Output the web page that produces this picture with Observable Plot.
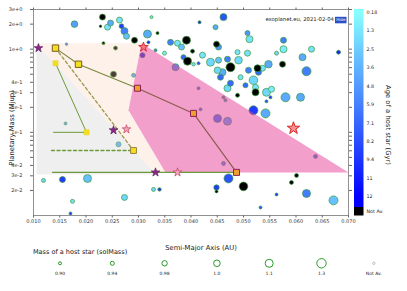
<!DOCTYPE html>
<html><head><meta charset="utf-8">
<script src="https://cdn.jsdelivr.net/npm/d3@7"></script>
<script src="https://cdn.jsdelivr.net/npm/@observablehq/plot@0.6"></script>
<style>body{margin:0;background:#fff}#c{width:407px;height:291px}</style>
</head><body><div id="c"></div><script>
// Planets (bubbles): semi-major axis (AU), planetary mass (Mjup), host star mass (solMass), host star age (Gyr, null = not available)
const planetA = [0.01781,0.02314,0.02276,0.02410,0.02467,0.02638,0.02676,0.02733,0.02771,0.02924,0.02333,0.01629,0.02562,0.02524,0.02905,0.03248,0.03171,0.03362,0.03190,0.03610,0.03743,0.03914,0.04162,0.04619,0.04467,0.04486,0.04524,0.05076,0.05114,0.03076,0.03324,0.03495,0.04029,0.04219,0.03857,0.03933,0.04048,0.04371,0.04524,0.04695,0.04886,0.04905,0.04752,0.04505,0.04562,0.04600,0.04695,0.04752,0.04943,0.05095,0.05267,0.05190,0.05229,0.05476,0.05362,0.05438,0.05533,0.05038,0.04886,0.05229,0.03705,0.04143,0.04181,0.04505,0.04695,0.04619,0.04657,0.04619,0.05190,0.05419,0.05762,0.05762,0.05629,0.06295,0.06810,0.05743,0.06124,0.06200,0.05514,0.05800,0.06086,0.05438,0.06371,0.06010,0.05914,0.06200,0.05629,0.06714,0.05324,0.04714,0.04486,0.04486,0.05000,0.03286,0.03400,0.01610,0.02619,0.01190,0.01552,0.02029,0.01743,0.02733,0.01705,0.03819,0.04143,0.05286,0.05076];
const planetM = [2.00,2.43,1.89,1.84,2.06,2.24,1.89,1.65,1.43,1.28,1.18,1.15,1.03,0.500,0.486,2.43,1.52,1.56,1.21,1.21,1.18,1.28,2.11,2.43,1.84,1.15,1.06,1.56,1.32,0.847,0.973,0.895,0.946,0.847,0.801,0.717,0.659,0.697,0.737,0.758,0.920,0.737,0.607,0.558,0.460,0.528,0.339,0.389,0.460,0.558,0.590,0.423,0.348,0.659,0.590,0.303,0.330,0.368,0.279,0.303,0.607,0.339,0.189,0.147,0.136,0.264,0.243,0.0423,0.184,0.169,1.28,1.00,0.895,1.00,0.920,0.659,0.801,0.543,0.264,0.264,0.264,0.236,0.0514,0.0303,0.0250,0.0184,0.0179,0.0152,0.0125,0.0279,0.0217,0.0195,0.0224,0.0206,0.0206,0.128,0.0717,0.0264,0.0271,0.0279,0.0148,0.0165,0.0106,1.06,0.678,0.528,0.895];
const hostMass = [1.00,0.99,0.88,0.99,0.99,0.99,0.96,1.03,0.99,0.99,0.90,0.88,0.94,0.99,0.94,0.90,1.10,0.90,0.90,0.99,0.99,1.10,0.90,1.03,0.97,0.99,0.99,0.97,1.03,0.97,0.90,0.94,0.94,0.99,0.97,1.10,0.92,1.10,0.99,0.99,0.97,1.07,1.24,1.00,0.99,1.03,1.03,0.99,0.97,0.99,1.03,1.19,0.99,1.06,0.99,1.10,0.99,0.97,0.94,1.03,1.03,0.90,0.90,1.10,1.10,0.90,0.90,0.94,1.24,1.24,0.99,1.03,0.94,0.99,0.94,0.99,1.03,1.24,0.90,1.24,1.10,0.90,0.94,0.94,0.94,1.10,0.90,1.24,0.90,1.24,0.98,0.90,1.19,0.94,0.92,0.90,0.97,0.94,0.99,1.10,0.94,0.99,0.90,0.99,0.90,0.99,0.99];
const hostAge = [4.5,null,null,1.5,4,1.5,9,6,3,null,null,7,null,null,5,1.5,4,null,10,6,1.5,null,10,8,4,null,5,5,1.5,9,6,1,null,1.5,7,null,1.5,2,3,6,1.5,2,null,2,7,4,2,7,1.5,6,null,2,1.5,4,1.5,2,1,7,null,null,5,6,6,6,4,6,5,5,9,4,6,1,2,1.5,10,null,4,6,9,4,4,8,6,null,null,6,9,3,8,8,9,null,null,2,9,5,4,2,9,3,1.5,2,9,3,8,7,1.5];

// Shaded regions
const greyA = [0.01057,0.03324,0.01057];
const greyM = [1.18,0.0312,0.0312];
const peachA = [0.01057,0.03057,0.02810,0.03514,0.03286];
const peachM = [1.18,1.18,0.184,0.033,0.033];
const pinkA = [0.03057,0.070,0.03514,0.02810];
const pinkM = [1.18,0.033,0.033,0.184];

// Squares
const sqA = [0.01419,0.01857,0.02981,0.04048,0.04867,0.01419,0.02010,0.02905];
const sqM = [1.03,0.659,0.339,0.169,0.033,0.678,0.100,0.0605];
// connecting lines
const track1A = [0.01419,0.01857,0.02981], track1M = [1.03,0.659,0.339];
const track2A = [0.02981,0.04048,0.04867], track2M = [0.339,0.169,0.033];
const dash1A = [0.01419,0.02905], dash1M = [1.03,0.0605];
const track3A = [0.01419,0.02010], track3M = [0.678,0.100];
const hline1A = [0.01381,0.02010], hline1M = [0.100,0.100];
const hline2A = [0.01343,0.02905], hline2M = [0.0605,0.0605];
const hline3A = [0.01362,0.04867], hline3M = [0.033,0.033];

// Stars
const starA = [0.01095,0.03095,0.02524,0.02771,0.03324,0.03743,0.05952];
const starM = [1.03,1.06,0.106,0.109,0.033,0.033,0.112];
const starKind = ["purple","red","purple","pink","purple","pink","bigred"];

// Ticks & legends
const xTicks = [0.010,0.015,0.020,0.025,0.030,0.035,0.040,0.045,0.050,0.055,0.060,0.065,0.070];
const yLabelTicks = [0.02,0.03,0.04,0.05,0.1,0.2,0.3,0.4,0.5,1,2,3];
const yMinorTicks = [0.06,0.07,0.08,0.09,0.6,0.7,0.8,0.9];
const ageTickLabels = ["0.18","1.3","2.5","3.6","4.8","5.9","7.1","8.2","9.4","11","12"];
const ageDomain = [0.18, 11.68];
const massLegendValues = [0.90,0.94,0.98,1.0,1.1,1.3];
const massLegendLabels = ["0.90","0.94","0.98","1.0","1.1","1.3"];

const rows = planetA.map((a,i)=>({a, m: planetM[i], ms: hostMass[i], age: hostAge[i]}));
const poly = (A,M)=>A.map((a,i)=>({a, m: M[i]}));
const sq = sqA.map((a,i)=>({a, m: sqM[i], i}));
const stars = starA.map((a,i)=>({a, m: starM[i], k: starKind[i]}));
const line = (A,M,opts)=>Plot.line(poly(A,M),{x:"a",y:"m",...opts});

const F = "DejaVu Sans";
const chart = Plot.plot({
  width: 407, height: 291,
  marginLeft: 33, marginRight: 59, marginTop: 9, marginBottom: 76,
  style: {fontFamily: F, fontSize: "5px", background: "white", color:"#333"},
  x: {domain: [0.010, 0.070]},
  y: {type: "log", domain: [0.01, 3]},
  color: {type: "linear", domain: ageDomain, range: ["#88ffff","#0000ff"], interpolate: "rgb"},
  r: {type: "linear", domain: massLegendValues, range: [1.5,2,2.7,3.3,4,4.7]},
  marks: [
    Plot.dot(rows, {filter: d=>d.age!=null, x:"a", y:"m", r:"ms", fill:"age", stroke:"#3a9a3a", strokeWidth:0.7}),
    Plot.dot(rows, {filter: d=>d.age==null, x:"a", y:"m", r:"ms", fill:"#000", stroke:"#3a9a3a", strokeWidth:0.7}),
    Plot.line(poly(peachA,peachM), {x:"a", y:"m", fill:"#fbd0b8", fillOpacity:0.3, stroke:"none"}),
    Plot.line(poly(greyA,greyM), {x:"a", y:"m", fill:"#cccccc", fillOpacity:0.32, stroke:"none"}),
    Plot.line(poly(pinkA,pinkM), {x:"a", y:"m", fill:"#e7409a", fillOpacity:0.5, stroke:"none"}),
    line(hline3A,hline3M,{stroke:"#6a9a3a", strokeWidth:1.3}),
    line(hline2A,hline2M,{stroke:"#6a9a3a", strokeWidth:1.3, strokeDasharray:"3,2.5"}),
    line(hline1A,hline1M,{stroke:"#6a9a3a", strokeWidth:1}),
    line(track3A,track3M,{stroke:"#6a9a3a", strokeWidth:1}),
    line(dash1A,dash1M,{stroke:"#9a9a50", strokeWidth:1.3, strokeDasharray:"3,2.5"}),
    line(track1A,track1M,{stroke:"#7a8a40", strokeWidth:1.1}),
    line(track2A,track2M,{stroke:"#8a5a48", strokeWidth:1.1}),
    Plot.dot(sq.filter(d=>d.i<2), {x:"a", y:"m", symbol:"square", r:3.6, fill:"#f2e020", stroke:"#7a5a20", strokeWidth:1}),
    Plot.dot(sq.filter(d=>d.i>=2&&d.i<5), {x:"a", y:"m", symbol:"square", r:3.4, fill:"#eba030", stroke:"#8b2252", strokeWidth:1}),
    Plot.dot(sq.filter(d=>d.i==5||d.i==6), {x:"a", y:"m", symbol:"square", r:2.9, fill:"#f2e020", stroke:"#e8d020", strokeWidth:0.5}),
    Plot.dot(sq.filter(d=>d.i==7), {x:"a", y:"m", symbol:"square", r:3.3, fill:"#f2e020", stroke:"#9a8040", strokeWidth:1}),
    Plot.dot(stars.filter(d=>d.k=="purple"), {x:"a", y:"m", symbol:"star", r:2.7, fill:"#8b2a8b", stroke:"#5a1a5a", strokeWidth:0.7}),
    Plot.dot(stars.filter(d=>d.k=="pink"), {x:"a", y:"m", symbol:"star", r:2.7, fill:"#f4a8bc", stroke:"#c04060", strokeWidth:0.7}),
    Plot.dot(stars.filter(d=>d.k=="red"), {x:"a", y:"m", symbol:"star", r:3.0, fill:"#f07a88", stroke:"#dd2222", strokeWidth:0.9}),
    Plot.dot(stars.filter(d=>d.k=="bigred"), {x:"a", y:"m", symbol:"star", r:3.9, fill:"#f49090", stroke:"#dd2222", strokeWidth:1}),
    Plot.axisX({ticks: xTicks, tickFormat: d3.format(".3f"), tickSize: 2.5, tickPadding: 1.5, label: null, stroke:"#666"}),
    Plot.axisX({anchor:"top", ticks: xTicks, tickFormat: ()=>"", tickSize: 2.5, label: null, stroke:"#666"}),
    Plot.axisY({ticks: yLabelTicks, tickFormat: d3.format(".0e"), tickSize: 3, tickPadding: 8, label: null, stroke:"#666"}),
    Plot.axisY({ticks: yMinorTicks, tickFormat: ()=>"", tickSize: 3, label: null, stroke:"#666"}),
    Plot.axisY({anchor:"right", ticks: yLabelTicks.concat(yMinorTicks), tickFormat: ()=>"", tickSize: 3, label: null, stroke:"#666"}),
    Plot.frame({stroke:"#777", strokeWidth:0.8})
  ]
});
document.getElementById("c").appendChild(chart);

// Extra annotations with d3 on the same SVG
const svg = d3.select(chart);
const txt = (x,y,s,size,opts={}) => {
  const t = svg.append("text").attr("x",x).attr("y",y).text(s)
    .attr("font-family",F).attr("font-size",size).attr("fill",opts.fill||"#222")
    .attr("dominant-baseline","middle").attr("text-anchor",opts.anchor||"start");
  if (opts.rotate) t.attr("transform",`rotate(${opts.rotate},${x},${y})`);
  return t;
};
// Axis titles
txt(201,248,"Semi-Major Axis (AU)",6.8,{anchor:"middle"});
txt(12,128,"Planetary Mass (Mjup)",6.8,{anchor:"middle",rotate:-90});
// Source stamp
txt(334,20,"exoplanet.eu, 2021-02-04",5.3,{anchor:"end"});
svg.append("rect").attr("x",335).attr("y",16.8).attr("width",11.5).attr("height",6.5).attr("fill","#2a50c8");
txt(340.8,20.2,"Hide",4,{anchor:"middle",fill:"#fff"});

// Colour bar
const colorScale = chart.scale("color");
const cbTop = 9, cbBot = 207, y0 = 12.7, y1 = 197;
const defs = svg.append("defs");
const grad = defs.append("linearGradient").attr("id","agegrad").attr("x1",0).attr("x2",0).attr("y1",0).attr("y2",1);
const nStops = 11;
for (let k=0;k<nStops;k++){
  const v = ageDomain[0] + (ageDomain[1]-ageDomain[0])*k/(nStops-1);
  const c = d3.interpolateRgb(colorScale.range[0], colorScale.range[1])(k/(nStops-1));
  grad.append("stop").attr("offset",((y0 + (y1-y0)*k/(nStops-1)) - cbTop)/(cbBot-cbTop)).attr("stop-color",c);
}
svg.append("rect").attr("x",354).attr("y",cbTop).attr("width",9.5).attr("height",cbBot-cbTop).attr("fill","url(#agegrad)");
svg.append("rect").attr("x",354).attr("y",cbBot).attr("width",9.5).attr("height",8.5).attr("fill","#000");
ageTickLabels.forEach((s,k)=>txt(366.5, y0 + (y1-y0)*k/(ageTickLabels.length-1), s, 4.8));
txt(366.5,211.3,"Not Av.",4.8);
txt(388,125,"Age of a host star (Gyr)",6.8,{anchor:"middle",rotate:90});

// Size legend
const rScale = chart.scale("r");
const rf = d3.scaleLinear(rScale.domain, rScale.range);
txt(33,252.5,"Mass of a host star (solMass)",6.5);
massLegendValues.forEach((v,k)=>{
  const cx = 60 + k*52.3;
  svg.append("circle").attr("cx",cx).attr("cy",263.3).attr("r",rf(v)).attr("fill","none").attr("stroke","#2a9a2a").attr("stroke-width",1);
  txt(cx,274,massLegendLabels[k],4.5,{anchor:"middle"});
});
svg.append("circle").attr("cx",60+6*52.3).attr("cy",263.3).attr("r",1.2).attr("fill","none").attr("stroke","#999").attr("stroke-width",0.6);
txt(60+6*52.3,274,"Not Av.",4.5,{anchor:"middle"});
</script></body></html>
